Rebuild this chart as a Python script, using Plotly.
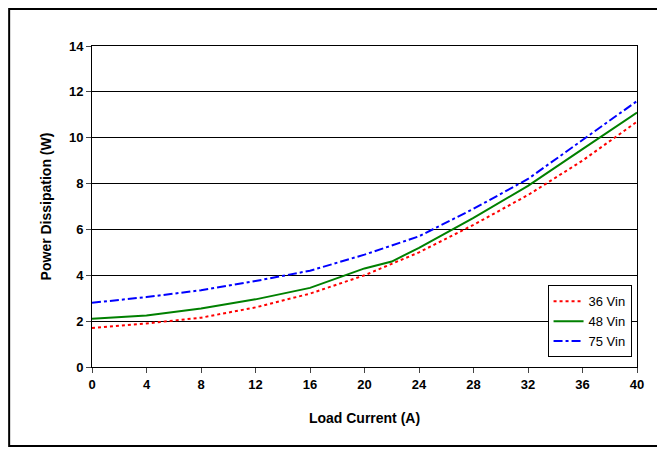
import plotly.graph_objects as go

load_current = [0, 4, 8, 12, 16, 20, 22, 24, 28, 32, 36, 40]
vin36 = [1.7, 1.9, 2.15, 2.6, 3.2, 4.0, 4.5, 5.0, 6.2, 7.5, 9.0, 10.7]
vin48 = [2.1, 2.25, 2.55, 2.95, 3.45, 4.3, 4.6, 5.2, 6.5, 7.9, 9.5, 11.1]
vin75 = [2.8, 3.05, 3.35, 3.75, 4.2, 4.9, 5.3, 5.7, 6.9, 8.2, 9.9, 11.6]
x_ticks = list(range(0, 41, 4))
y_ticks = list(range(0, 15, 2))

fig = go.Figure()
fig.add_trace(go.Scatter(x=load_current, y=vin36, name='36 Vin', mode='lines',
                         line=dict(color='#ff0000', width=2, dash='dot')))
fig.add_trace(go.Scatter(x=load_current, y=vin48, name='48 Vin', mode='lines',
                         line=dict(color='#008000', width=2)))
fig.add_trace(go.Scatter(x=load_current, y=vin75, name='75 Vin', mode='lines',
                         line=dict(color='#0000ff', width=2, dash='dashdot')))

tickf = dict(size=13, family='Liberation Sans, Arial')
fig.update_layout(
    width=657, height=444,
    margin=dict(l=84, r=28, t=38, b=85),
    paper_bgcolor='white', plot_bgcolor='white',
    font=dict(family='Liberation Sans, Arial', size=12, color='black'),
    showlegend=True,
    legend=dict(x=0.99, y=0.03, xanchor='right', yanchor='bottom',
                bgcolor='white', bordercolor='black', borderwidth=1,
                font=dict(size=13)),
    xaxis=dict(range=[0, 40], tickvals=x_ticks,
               ticktext=[f'<b>{v}</b>' for v in x_ticks], showgrid=False,
               showline=True, linecolor='black', mirror=True, ticks='outside',
               tickfont=tickf,
               title=dict(text='<b>Load Current (A)</b>', font=dict(size=14), standoff=22)),
    yaxis=dict(range=[0, 14], tickvals=y_ticks,
               ticktext=[f'<b>{v}</b>' for v in y_ticks], showgrid=True,
               gridcolor='black', gridwidth=1, showline=True, linecolor='black',
               mirror=True, ticks='outside', zeroline=False, tickfont=tickf,
               title=dict(text='<b>Power Dissipation (W)</b>', font=dict(size=14), standoff=14)),
    shapes=[dict(type='rect', xref='paper', yref='paper', x0=-0.152, x1=1.046,
                 y0=-0.246, y1=1.115, line=dict(color='black', width=2))],
)

fig.write_html("out.html")
